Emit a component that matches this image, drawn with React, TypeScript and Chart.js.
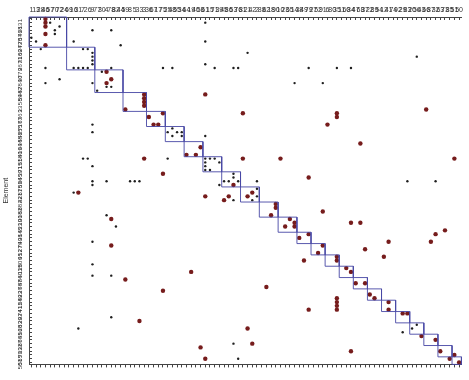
import { useEffect, useRef } from "react";
import { Chart, registerables } from "chart.js";

Chart.register(...registerables);

const elementLabels = [
  1, 13, 28, 46, 57, 70, 72, 24, 69, 16,
  31, 7, 26, 9, 77, 30, 4, 78, 82, 44,
  59, 8, 5, 33, 3, 36, 67, 17, 75, 25,
  48, 55, 34, 64, 19, 40, 58, 61, 15, 71,
  39, 45, 86, 53, 76, 81, 21, 42, 2, 88,
  62, 18, 90, 10, 23, 65, 14, 38, 49, 79,
  27, 52, 91, 6, 80, 35, 11, 60, 84, 47,
  68, 37, 22, 89, 54, 12, 41, 74, 92, 29,
  83, 20, 56, 43, 66, 87, 32, 63, 73, 85,
  51, 50,
];

const blockSizes = [8, 6, 6, 5, 4, 4, 4, 4, 4, 4, 4, 4, 3, 3, 3, 3, 3, 3, 3, 3, 3, 3, 3, 2];

// [column, row]
const strongMarks: [number, number][] = [
  [3, 0], [3, 1], [3, 2], [3, 4], [3, 7],
  [16, 14], [17, 16], [16, 17],
  [20, 24], [24, 20], [24, 21], [24, 22], [24, 23],
  [37, 20], [28, 25], [45, 25], [65, 25], [84, 24],
  [25, 26], [26, 28], [27, 28],
  [65, 26], [63, 28], [70, 33],
  [36, 34], [33, 36], [35, 36],
  [24, 37], [45, 37], [53, 37], [90, 37],
  [28, 41], [59, 42], [43, 44],
  [10, 46], [47, 46], [46, 47], [37, 47], [42, 47], [41, 48],
  [52, 49], [52, 50], [62, 51], [51, 52],
  [17, 53], [55, 53], [56, 54], [56, 55], [54, 55], [68, 54], [70, 54],
  [88, 56], [59, 57], [86, 57], [57, 58],
  [76, 59], [85, 59],
  [17, 60], [62, 60], [71, 61], [61, 62], [75, 63], [65, 63], [65, 64], [58, 64],
  [67, 66], [68, 67], [34, 67],
  [20, 69], [69, 70], [71, 70], [50, 71], [28, 72],
  [72, 73], [73, 74], [65, 74], [65, 75], [65, 76], [65, 77], [76, 75], [76, 77], [59, 77],
  [79, 78], [80, 78],
  [23, 80], [46, 82],
  [83, 84], [86, 85], [47, 86], [36, 87], [87, 88], [68, 88], [90, 89], [89, 90], [37, 90], [91, 91],
];

const weakMarks: [number, number][] = [
  [4, 1], [6, 2], [5, 3], [5, 4], [0, 5], [1, 6], [2, 8],
  [9, 6], [13, 3], [17, 3], [19, 7], [11, 8], [12, 8], [13, 9], [13, 10], [13, 11], [13, 12],
  [3, 13], [9, 13], [10, 13], [11, 13], [12, 13], [17, 13], [15, 14], [6, 16], [3, 17], [13, 17],
  [16, 18], [17, 18], [14, 19],
  [37, 1], [37, 6], [46, 9], [28, 13], [30, 13], [37, 12], [39, 13], [43, 13], [44, 13], [56, 17],
  [82, 10], [59, 13], [65, 13], [68, 13], [62, 17],
  [13, 28], [13, 30], [11, 37], [12, 37], [13, 39], [13, 43], [13, 44], [16, 43], [21, 43], [22, 43],
  [23, 43], [9, 46], [16, 52], [18, 55], [13, 59],
  [13, 65], [13, 68], [17, 68], [17, 79], [10, 82],
  [29, 30], [30, 29], [31, 30], [32, 30], [30, 31], [32, 31], [37, 31], [29, 37],
  [37, 37], [38, 37], [39, 37], [40, 38], [37, 38], [37, 39], [37, 40], [38, 40],
  [43, 41], [43, 42], [41, 43], [42, 43], [44, 43], [40, 44], [48, 43],
  [48, 47], [47, 48], [48, 45], [43, 48],
  [80, 43], [86, 43],
  [81, 82], [82, 81], [79, 83],
  [43, 86], [44, 90],
];

export default function App() {
  const ref = useRef<HTMLCanvasElement>(null);

  useEffect(() => {
    document.body.style.margin = "0";
    Chart.defaults.font.family = "'Liberation Sans', Arial, sans-serif";
    const n = elementLabels.length;
    const boxPts: { x: number; y: number | null }[] = [];
    let s = 0;
    for (const size of blockSizes) {
      const a = s - 0.5;
      const b = s + size - 0.5;
      boxPts.push({ x: a, y: a }, { x: b, y: a }, { x: b, y: b }, { x: a, y: b }, { x: a, y: a }, { x: a, y: null });
      s += size;
    }
    const setTicks = (axis: any) => {
      axis.ticks = elementLabels.map((_, i) => ({ value: i }));
    };
    const labelOf = (v: any) => {
      const i = Math.round(Number(v));
      return elementLabels[i] !== undefined ? String(elementLabels[i]) : "";
    };

    const chart = new Chart(ref.current!, {
      type: "scatter",
      data: {
        datasets: [
          {
            data: boxPts as any,
            showLine: true,
            spanGaps: false,
            borderColor: "rgba(72,72,165,0.9)",
            borderWidth: 1,
            pointRadius: 0,
            clip: false as any,
          },
          {
            data: weakMarks.map(([x, y]) => ({ x, y })),
            pointRadius: 1.2,
            pointBorderWidth: 0,
            backgroundColor: "#1e1e1e",
            clip: false as any,
          },
          {
            data: strongMarks.map(([x, y]) => ({ x, y })),
            pointRadius: 2.2,
            pointBorderWidth: 0,
            backgroundColor: "#761c1c",
            clip: false as any,
          },
        ],
      },
      options: {
        animation: false,
        responsive: false,
        devicePixelRatio: 1,
        layout: { padding: 0 },
        plugins: { legend: { display: false }, tooltip: { enabled: false } },
        scales: {
          x: {
            type: "linear",
            position: "top",
            min: -0.5,
            max: n - 0.5,
            afterBuildTicks: setTicks,
            afterFit: (sc: any) => {
              sc.height = 17;
            },
            ticks: {
              autoSkip: false,
              maxRotation: 0,
              minRotation: 0,
              padding: 6,
              color: "#333",
              font: { size: 7 },
              callback: labelOf,
            },
            grid: { drawOnChartArea: false, drawTicks: true, tickLength: -3, color: "#444" },
            border: { display: true, color: "#444" },
          },
          x2: {
            type: "linear",
            position: "bottom",
            min: -0.5,
            max: n - 0.5,
            afterBuildTicks: setTicks,
            afterFit: (sc: any) => {
              sc.height = 4;
            },
            ticks: { display: false },
            grid: { drawOnChartArea: false, drawTicks: true, tickLength: 3, color: "#444" },
            border: { display: true, color: "#444" },
          },
          y: {
            type: "linear",
            position: "left",
            reverse: true,
            min: -0.5,
            max: n - 0.5,
            afterBuildTicks: setTicks,
            afterFit: (sc: any) => {
              sc.width = 29;
            },
            title: { display: true, text: "Element", color: "#333", font: { size: 7 }, padding: { top: 2, bottom: 2 } },
            ticks: {
              autoSkip: false,
              minRotation: 90,
              maxRotation: 90,
              padding: 12,
              color: "#333",
              font: { size: 6 },
              callback: labelOf,
            },
            grid: { drawOnChartArea: false, drawTicks: true, tickLength: -3, color: "#444" },
            border: { display: true, color: "#444" },
          },
        },
      },
    });
    return () => chart.destroy();
  }, []);

  return (
    <div style={{ width: 469, height: 380 }}>
      <canvas ref={ref} width={469} height={380} style={{ display: "block" }} />
    </div>
  );
}
